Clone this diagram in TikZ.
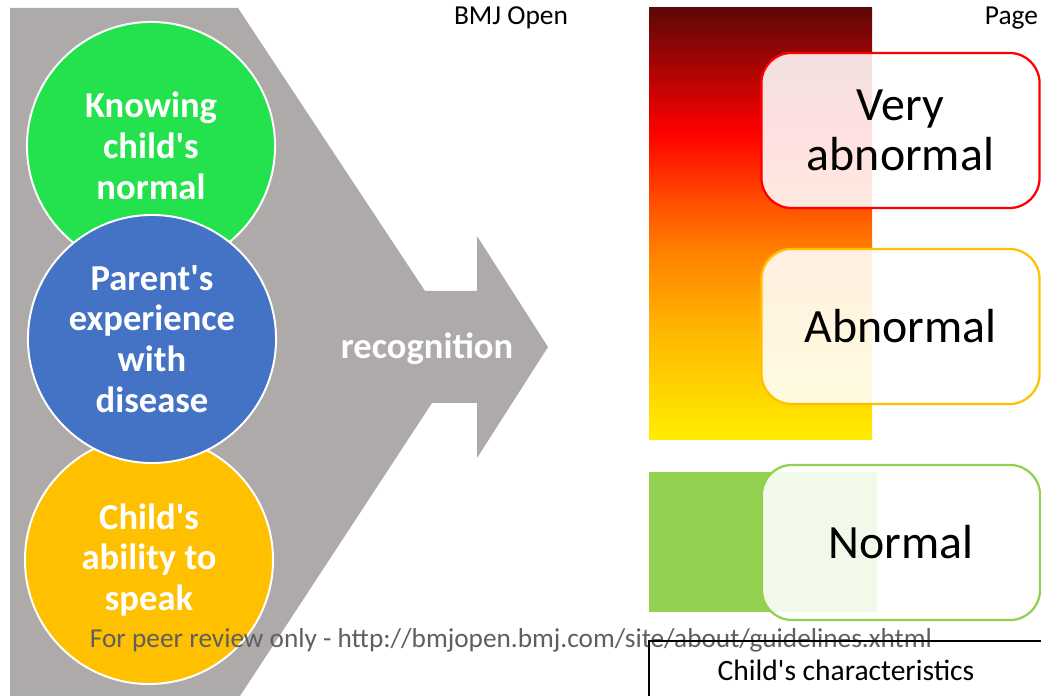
\documentclass[tikz,border=0pt]{standalone}
\usepackage{fontspec}
\setmainfont{Carlito}

\definecolor{arrowgrey}{RGB}{174,170,170}
\definecolor{knowgreen}{RGB}{35,226,77}
\definecolor{expblue}{RGB}{68,114,196}
\definecolor{speakyellow}{RGB}{255,192,0}
\definecolor{normalgreen}{RGB}{146,208,80}
\definecolor{footgrey}{RGB}{95,95,95}

% severity scale, yellow at the bottom up to dark red
\pgfdeclareverticalshading{riskbar}{100bp}{
  rgb(0bp)=(1,0.93,0); rgb(25bp)=(1,0.93,0);
  rgb(38bp)=(1,0.71,0); rgb(47bp)=(1,0.50,0);
  rgb(52.5bp)=(1,0.31,0); rgb(60.5bp)=(1,0,0);
  rgb(75bp)=(0.37,0.03,0.03); rgb(100bp)=(0.37,0.03,0.03)}

\newcommand{\apos}{\textquotesingle}

\tikzset{
  factor/.style={circle, draw=white, line width=1.4pt, minimum size=6.2cm,
    inner sep=0pt, align=center, text=white,
    font=\bfseries\fontsize{26}{29}\selectfont},
  gradebox/.style={rounded corners=0.75cm, line width=1.6pt, fill=white,
    fill opacity=0.88, text opacity=1, minimum width=6.95cm,
    minimum height=3.875cm, align=center,
    font=\fontsize{34}{36}\selectfont},
}

\begin{document}
\begin{tikzpicture}[x=0.025cm, y=0.025cm]
    \useasboundingbox (0,0) rectangle (1041,696);

    % Grey chevron with the recognition arrow
    \fill[arrowgrey] (10,688) -- (238,688) -- (425,405) -- (477,405)
        -- (477,460) -- (548,349) -- (477,238) -- (477,293)
        -- (432,293) -- (240,0) -- (10,0) -- cycle;
    \node[text=white, font=\bfseries\fontsize{26}{29}\selectfont] (recog) at (427,347) {recognition};

    % Parent's factors
    \node[factor, fill=knowgreen] (knowing) at (151,550) {Knowing\\child\apos s\\normal};
    \node[factor, fill=speakyellow] (speak) at (149,136) {Child\apos s\\ability to\\speak};
    \node[factor, fill=expblue] (experience) at (152,357) {Parent\apos s\\experience\\with\\disease};

    % Severity bars
    \shade[shading=riskbar] (649,256) rectangle (872,688);
    \fill[normalgreen] (649,84) rectangle (877,224);

    \node[gradebox, draw=red] (veryabn) at (900.5,565.5) {Very\\abnormal};
    \node[gradebox, draw=speakyellow] (abn) at (900.5,369.5) {Abnormal};
    \node[gradebox, draw=normalgreen] (norm) at (901,153.5) {Normal};

    % Page header
    \node[font=\fontsize{19.5}{24}\selectfont] (journal) at (511,678) {BMJ Open};
    \node[anchor=west, font=\fontsize{19.5}{24}\selectfont] (pagehead) at (980,678) {Page};

    % Footer
    \node[text=footgrey, font=\fontsize{19.4}{24}\selectfont] (review) at (511,56)
        {For peer review only - http://bmjopen.bmj.com/site/about/guidelines.xhtml};
    \draw[line width=1pt] (649,0) |- (1041,55);
    \node[font=\fontsize{21}{24}\selectfont] (childchar) at (846,26) {Child\apos s characteristics};
\end{tikzpicture}
\end{document}
